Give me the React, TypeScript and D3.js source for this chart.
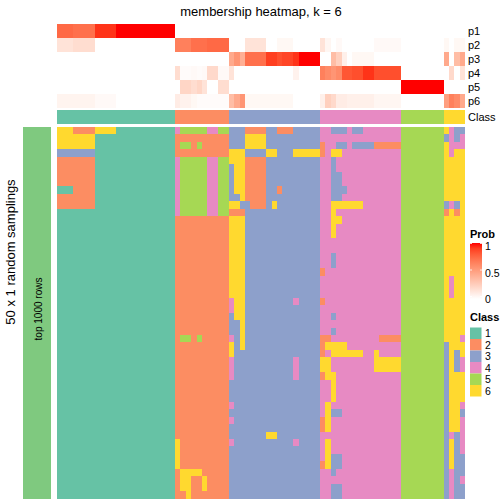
import React from "react";
import * as d3 from "d3";

const title = "membership heatmap, k = 6";
const probLabels = ["p1", "p2", "p3", "p4", "p5", "p6"];
const classLabels = ["1", "2", "3", "4", "5", "6"];
const classColors = ["#66C2A5", "#FC8D62", "#8DA0CB", "#E78AC3", "#A6D854", "#FFD92F"];
const probTicks = [0, 0.5, 1];

// class of each column (sample)
const columnClass =
  "1111111111111111111111|2222222222|33333333333333333|444444444444444|55555555|6666";

// membership probabilities, grouped by class: 22 | 10 | 17 | 15 | 8 | 4
const p1 = [
  0.75, 0.75, 0.75, 0.72, 0.72, 0.72, 0.72, 0.93, 0.93, 0.93, 0.93, 1, 1, 1, 1, 1, 1, 1, 1, 1, 1, 1,
  0, 0, 0, 0, 0, 0, 0, 0, 0, 0,
  0, 0, 0, 0, 0, 0, 0, 0, 0, 0, 0, 0, 0, 0, 0, 0, 0,
  0, 0, 0, 0, 0, 0, 0, 0, 0, 0, 0, 0, 0, 0, 0,
  0, 0, 0, 0, 0, 0, 0, 0,
  0, 0, 0, 0,
];
const p2 = [
  0.15, 0.15, 0.15, 0.18, 0.18, 0.18, 0.18, 0, 0, 0, 0, 0, 0, 0, 0, 0, 0, 0, 0, 0, 0, 0,
  0.65, 0.65, 0.65, 0.72, 0.72, 0.72, 0.75, 0.75, 0.75, 0.75,
  0, 0, 0, 0.15, 0.15, 0.15, 0.15, 0, 0, 0.04, 0.04, 0.04, 0, 0, 0, 0, 0,
  0.15, 0.05, 0, 0.03, 0, 0, 0, 0, 0, 0, 0.03, 0.03, 0.03, 0.03, 0.03,
  0, 0, 0, 0, 0, 0, 0, 0,
  0.04, 0, 0.04, 0.04,
];
const p3 = [
  0, 0, 0, 0, 0, 0, 0, 0, 0, 0, 0, 0, 0, 0, 0, 0, 0, 0, 0, 0, 0, 0,
  0, 0, 0, 0, 0, 0, 0, 0, 0, 0,
  0.45, 0.55, 0.42, 0.72, 0.72, 0.72, 0.72, 0.9, 0.9, 0.85, 0.88, 0.88, 0.93, 1, 1, 1, 1,
  0, 0, 0.35, 0.25, 0.08, 0, 0.04, 0.04, 0.04, 0.04, 0, 0, 0, 0, 0,
  0, 0, 0, 0, 0, 0, 0, 0,
  0.45, 0, 0.35, 0.45,
];
const p4 = [
  0, 0, 0, 0, 0, 0, 0, 0, 0, 0, 0, 0, 0, 0, 0, 0, 0, 0, 0, 0, 0, 0,
  0.18, 0.02, 0.02, 0.03, 0.02, 0.03, 0.2, 0.2, 0.03, 0.03,
  0.15, 0, 0, 0, 0, 0, 0, 0, 0, 0, 0, 0, 0.07, 0, 0, 0, 0,
  0.65, 0.6, 0.55, 0.6, 0.82, 0.82, 0.85, 0.85, 0.93, 0.93, 0.85, 0.85, 0.85, 0.85, 0.85,
  0, 0, 0, 0, 0, 0, 0, 0,
  0, 0.2, 0, 0.15,
];
const p5 = [
  0, 0, 0, 0, 0, 0, 0, 0, 0, 0, 0, 0, 0, 0, 0, 0, 0, 0, 0, 0, 0, 0,
  0, 0.22, 0.22, 0.18, 0.22, 0.15, 0, 0, 0.18, 0.18,
  0, 0, 0, 0, 0, 0, 0, 0, 0, 0, 0, 0, 0, 0, 0, 0, 0,
  0, 0, 0, 0, 0, 0, 0, 0, 0, 0, 0, 0, 0, 0, 0,
  1, 1, 1, 1, 1, 1, 1, 1,
  0, 0, 0, 0,
];
const p6 = [
  0.06, 0.06, 0.06, 0.06, 0.06, 0.06, 0.06, 0.03, 0.03, 0.03, 0.03, 0, 0, 0, 0, 0, 0, 0, 0, 0, 0, 0,
  0.1, 0.07, 0.07, 0.04, 0.02, 0.02, 0.02, 0.02, 0.02, 0.02,
  0.35, 0.45, 0.55, 0.04, 0.04, 0.04, 0.04, 0.04, 0.04, 0.04, 0.04, 0.04, 0, 0, 0, 0, 0,
  0.08, 0.25, 0.2, 0.1, 0.1, 0.08, 0.08, 0.08, 0.08, 0.08, 0.05, 0.05, 0.05, 0.05, 0.05,
  0, 0, 0, 0, 0, 0, 0, 0,
  0.5, 0.65, 0.6, 0.45,
];

// 50 random samplings x 76 samples: predicted class per cell
const membership = [
  "6662222666611111111111|4555554455|33322223322233333|443334334444444|55555555|6433",
  "6666666111111111111111|2222222222|33366663333333333|444444444444444|55555555|3434",
  "6666666111111111111111|2552522222|33366663333333333|244334333322222|55555555|6444",
  "3333333111111111111111|2222222222|66633336633366666|246644444444444|55555555|6466",
  "2222222111111111111111|4555554455|66622223333333333|443444444444444|55555555|6666",
  "2222222111111111111111|4555554455|36622223333333333|443444444444444|55555555|6666",
  "2222222111111111111111|4555554455|36622223333333333|443344444444444|55555555|6666",
  "2222222111111111111111|4555554455|36622223333333333|443344444444444|55555555|6666",
  "1112222111111111111111|4555554455|36622223323333333|443334444444444|55555555|6666",
  "2222222111111111111111|4555554455|33622223333333333|443344444444444|55555555|6666",
  "2222222111111111111111|4555554455|66332223633333333|446666664444444|55555555|3436",
  "1111111111111111111111|4555554455|22233333333333333|446444444444444|55555555|2626",
  "1111111111111111111111|2222222222|66633333333333333|446644444444444|55555555|6666",
  "1111111111111111111111|2222222222|66633333333333333|446444444444444|55555555|6666",
  "1111111111111111111111|2222222222|66633333333333333|446444444444444|55555555|6666",
  "1111111111111111111111|2222222222|66633333333333333|444444444444444|55555555|6666",
  "1111111111111111111111|2222222222|66633333333333333|444444444444444|55555555|6666",
  "1111111111111111111111|2222222222|66633333333333333|443444444444444|55555555|6666",
  "1111111111111111111111|2222222222|66633333333333333|443444444444444|55555555|6666",
  "1111111111111111111111|2222222222|66633333333333333|244444444444444|55555555|6666",
  "1111111111111111111111|2222222222|66633333333333333|444444444444444|55555555|6466",
  "1111111111111111111111|2222222222|66633333333333333|444444444444444|55555555|6466",
  "1111111111111111111111|2222222222|66633333333333333|444444444444444|55555555|6466",
  "1111111111111111111111|2222222222|46633333333343333|244444444444444|55555555|6666",
  "1111111111111111111111|2222222222|46633333333333333|444444444444444|55555555|6666",
  "1111111111111111111111|2222222222|36633333333333333|443444444444444|55555555|6666",
  "1111111111111111111111|2222222222|33633333333333333|444444444444444|55555555|6666",
  "1111111111111111111111|2222222222|33633333333333333|443444444444444|55555555|6666",
  "1111111111111111111111|2552522222|43633333333333333|224444444442222|55555555|6664",
  "1111111111111111111111|2222222222|63633333333333333|266664444444444|55555555|3666",
  "1111111111111111111111|2222222222|63333333333333333|246666664464444|55555555|3636",
  "1111111111111111111111|2222222222|43333333333343333|664444444466666|55555555|3634",
  "1111111111111111111111|2222222222|43333333333343333|664444444466666|55555555|3634",
  "1111111111111111111111|2222222222|43333333333343333|266444444444444|55555555|3666",
  "1111111111111111111111|2222222222|33333333333333333|446444444444444|55555555|3666",
  "1111111111111111111111|2222222222|33333333333333333|446444444444444|55555555|3666",
  "1111111111111111111111|2222222222|33333333333333333|446444444444444|55555555|3666",
  "1111111111111111111111|2222222222|43333333333333333|464444444444444|55555555|3664",
  "1111111111111111111111|2222222222|33333333333333333|463344444444444|55555555|3663",
  "1111111111111111111111|2222222222|43333333333333333|264444444444444|55555555|3664",
  "1111111111111111111111|2222222222|33333333333333333|264444444444444|55555555|3664",
  "1111111111111111111111|2222222222|33333336633333333|444444444444444|55555555|3434",
  "1111111111111111111111|6222222222|43333333333343333|464444444444444|55555555|3634",
  "1111111111111111111111|6222222222|33333333333333333|464444444444444|55555555|3634",
  "1111111111111111111111|6222222222|33333333333333333|463344444444444|55555555|3633",
  "1111111111111111111111|6222222222|33333333333333333|263344444444444|55555555|3633",
  "1111111111111111111111|2666622222|33333333333333333|443444444444444|55555555|3433",
  "1111111111111111111111|2662262222|33333333333333333|444444444444444|55555555|3434",
  "1111111111111111111111|2662262222|33333333333333333|443344444444444|55555555|3433",
  "1111111111111111111111|2262222222|33333333333333333|443344444444444|55555555|3433",
];

const FONT = "'Liberation Sans', Arial, Helvetica, sans-serif";

export default function App() {
  const probRows = [p1, p2, p3, p4, p5, p6];
  const colClass = columnClass.replace(/\|/g, "").split("");
  const grid = membership.map((r) => r.replace(/\|/g, "").split(""));
  const nCol = colClass.length;

  const x = d3.scaleBand<number>().domain(d3.range(nCol)).range([57, 465]);
  const yTop = d3.scaleBand<string>().domain(probLabels).range([24, 108]);
  const yMain = d3.scaleBand<number>().domain(d3.range(grid.length)).range([127, 498.5]);
  const probColor = d3
    .scaleLinear<string>()
    .domain([0, 1])
    .range(["#FFFFFF", "#FF0000"])
    .interpolate(d3.interpolateLab);
  const classColor = d3.scaleOrdinal<string, string>().domain(classLabels).range(classColors);

  const classY0 = 110;
  const classH = 14;

  // legend
  const barX = 470;
  const barW = 12;
  const barTop = 243;
  const barBot = 299;
  const tickY = d3.scaleLinear().domain([0, 1]).range([299.5, 246.5]);
  const gradStops = d3.range(0, 1.0001, 0.1);
  const legY = d3.scaleBand<string>().domain(classLabels).range([327.5, 396.5]);

  return (
    <svg
      width={504}
      height={504}
      style={{ position: "absolute", left: 0, top: 0, background: "#fff" }}
      fontFamily={FONT}
    >
      <defs>
        <linearGradient id="probGrad" x1="0" y1="1" x2="0" y2="0">
          {gradStops.map((v) => (
            <stop key={v} offset={`${v * 100}%`} stopColor={probColor(v)} />
          ))}
        </linearGradient>
      </defs>
      <rect x={0} y={0} width={504} height={504} fill="#fff" />
      <text x={261} y={16} fontSize={13} textAnchor="middle" fill="#000">
        {title}
      </text>

      {/* top probability annotation */}
      <g shapeRendering="crispEdges">
        {probRows.map((row, i) =>
          row.map((v, j) => (
            <rect
              key={`p${i}-${j}`}
              x={x(j)}
              y={yTop(probLabels[i])}
              width={x.bandwidth() + 0.3}
              height={yTop.bandwidth()}
              fill={probColor(v)}
            />
          ))
        )}
        {colClass.map((c, j) => (
          <rect
            key={`c${j}`}
            x={x(j)}
            y={classY0}
            width={x.bandwidth() + 0.3}
            height={classH}
            fill={classColor(c)}
          />
        ))}
      </g>
      {probLabels.map((l) => (
        <text key={l} x={468} y={(yTop(l) as number) + yTop.bandwidth() / 2 + 4} fontSize={11} fill="#000">
          {l}
        </text>
      ))}
      <text x={468} y={classY0 + classH / 2 + 4} fontSize={11} fill="#000">
        Class
      </text>

      {/* main heatmap */}
      <g shapeRendering="crispEdges">
        {grid.map((row, i) =>
          row.map((c, j) => (
            <rect
              key={`m${i}-${j}`}
              x={x(j)}
              y={yMain(i)}
              width={x.bandwidth() + 0.3}
              height={yMain.bandwidth() + 0.3}
              fill={classColor(c)}
            />
          ))
        )}
      </g>

      {/* left annotation */}
      <rect x={23} y={127} width={28} height={371.5} fill="#7FC97F" shapeRendering="crispEdges" />
      <text transform="translate(41.5,309) rotate(-90)" fontSize={10} textAnchor="middle" fill="#000">
        top 1000 rows
      </text>
      <text transform="translate(14.5,252) rotate(-90)" fontSize={13} textAnchor="middle" fill="#000">
        50 x 1 random samplings
      </text>

      {/* Prob legend */}
      <text x={470} y={238} fontSize={11} fontWeight="bold" fill="#000">
        Prob
      </text>
      <rect x={barX} y={barTop} width={barW} height={barBot - barTop} fill="url(#probGrad)" />
      {probTicks.map((t) => (
        <g key={t}>
          <line x1={barX} x2={barX + 2} y1={tickY(t) - 3} y2={tickY(t) - 3} stroke="#fff" strokeWidth={0.8} />
          <line x1={barX + barW - 2} x2={barX + barW} y1={tickY(t) - 3} y2={tickY(t) - 3} stroke="#fff" strokeWidth={0.8} />
          <text x={485} y={tickY(t) + 3.5} fontSize={10.5} fill="#000">
            {t}
          </text>
        </g>
      ))}

      {/* Class legend */}
      <text x={470} y={321} fontSize={11} fontWeight="bold" fill="#000">
        Class
      </text>
      {classLabels.map((c) => (
        <g key={c}>
          <rect x={470} y={legY(c)} width={11.5} height={legY.bandwidth()} fill={classColor(c)} />
          <text x={485} y={(legY(c) as number) + legY.bandwidth() / 2 + 4} fontSize={10.5} fill="#000">
            {c}
          </text>
        </g>
      ))}
    </svg>
  );
}
